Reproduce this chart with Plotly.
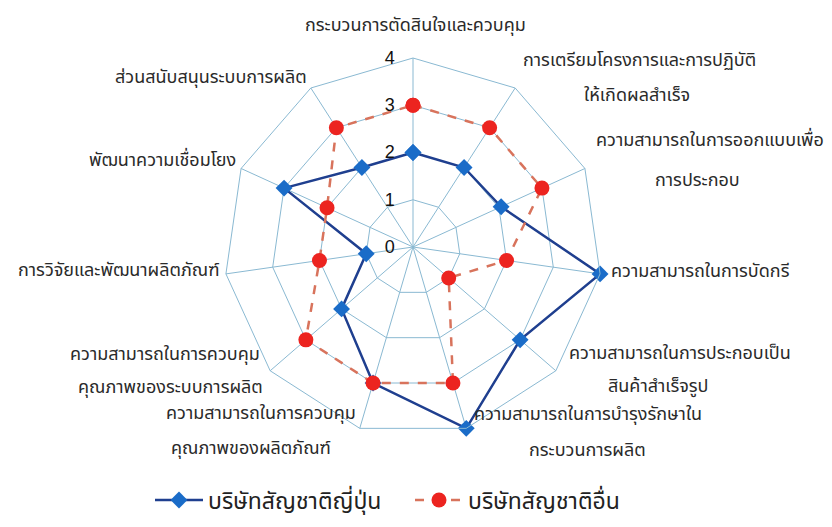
import plotly.graph_objects as go

W, H = 832, 527

categories = [
    "กระบวนการตัดสินใจและควบคุม",
    "การเตรียมโครงการและการปฏิบัติให้เกิดผลสำเร็จ",
    "ความสามารถในการออกแบบเพื่อการประกอบ",
    "ความสามารถในการบัดกรี",
    "ความสามารถในการประกอบเป็นสินค้าสำเร็จรูป",
    "ความสามารถในการบำรุงรักษาในกระบวนการผลิต",
    "ความสามารถในการควบคุมคุณภาพของผลิตภัณฑ์",
    "ความสามารถในการควบคุมคุณภาพของระบบการผลิต",
    "การวิจัยและพัฒนาผลิตภัณฑ์",
    "พัฒนาความเชื่อมโยง",
    "ส่วนสนับสนุนระบบการผลิต",
]
japanese = [2, 2, 2.05, 4, 3, 4, 3, 2, 1, 3, 2]
others = [3, 3, 3, 2, 1, 3, 3, 3, 2, 2, 3]
series_names = ["บริษัทสัญชาติญี่ปุ่น", "บริษัทสัญชาติอื่น"]
radial_ticks = [0, 1, 2, 3, 4]

# label lines as displayed in the chart
label_lines = [
    ["กระบวนการตัดสินใจและควบคุม"],
    ["การเตรียมโครงการและการปฏิบัติ", "ให้เกิดผลสำเร็จ"],
    ["ความสามารถในการออกแบบเพื่อ", "การประกอบ"],
    ["ความสามารถในการบัดกรี"],
    ["ความสามารถในการประกอบเป็น", "สินค้าสำเร็จรูป"],
    ["ความสามารถในการบำรุงรักษาใน", "กระบวนการผลิต"],
    ["ความสามารถในการควบคุม", "คุณภาพของผลิตภัณฑ์"],
    ["ความสามารถในการควบคุม", "คุณภาพของระบบการผลิต"],
    ["การวิจัยและพัฒนาผลิตภัณฑ์"],
    ["พัฒนาความเชื่อมโยง"],
    ["ส่วนสนับสนุนระบบการผลิต"],
]
# (x px, y px, anchor) for each line
label_pos = [
    [(415, 25, "center")],
    [(639, 60, "center"), (637, 95, "center")],
    [(710, 140, "center"), (697, 180, "center")],
    [(609, 271, "left")],
    [(680, 353, "center"), (658, 386, "center")],
    [(588, 414, "center"), (587, 450, "center")],
    [(261, 413, "center"), (251, 448, "center")],
    [(165, 354, "center"), (170, 387, "center")],
    [(221, 270, "right")],
    [(162, 160, "center")],
    [(211, 77, "center")],
]

FONT = "Tahoma, 'Noto Sans Thai', 'Loma', 'Garuda', sans-serif"
GRID = "#8ab9d2"

cx, cy, R = 413, 247, 189

fig = go.Figure()
theta = categories + [categories[0]]
fig.add_trace(go.Scatterpolar(
    r=japanese + [japanese[0]], theta=theta, name=series_names[0],
    mode="lines+markers",
    line=dict(color="#1f3f8f", width=2.5),
    marker=dict(symbol="diamond", size=13, color="#1a6cc8"),
))
fig.add_trace(go.Scatterpolar(
    r=others + [others[0]], theta=theta, name=series_names[1],
    mode="lines+markers",
    line=dict(color="#d8735c", width=2.5, dash="dash"),
    marker=dict(symbol="circle", size=15, color="#ec2420"),
))

annotations = []
for lines, poss in zip(label_lines, label_pos):
    for txt, (x, y, anc) in zip(lines, poss):
        annotations.append(dict(
            x=x / W, y=1 - y / H, xref="paper", yref="paper",
            text=txt, showarrow=False, xanchor=anc, yanchor="middle",
            font=dict(size=18, color="#2a2a2a", family=FONT),
        ))

fig.update_layout(
    width=W, height=H,
    margin=dict(l=0, r=0, t=0, b=0),
    paper_bgcolor="white", plot_bgcolor="white",
    font=dict(family=FONT),
    polar=dict(
        domain=dict(x=[(cx - R) / W, (cx + R) / W], y=[1 - (cy + R) / H, 1 - (cy - R) / H]),
        bgcolor="white",
        gridshape="linear",
        angularaxis=dict(
            direction="clockwise", rotation=90,
            showticklabels=False, ticks="",
            gridcolor=GRID, linecolor=GRID, gridwidth=1, linewidth=1,
        ),
        radialaxis=dict(
            range=[0, 4], tickvals=radial_ticks,
            ticktext=[str(t) + "\u00a0\u00a0\u00a0" for t in radial_ticks],
            angle=90, side="counterclockwise", tickangle=90,
            showline=False, ticks="",
            gridcolor=GRID, gridwidth=1,
            tickfont=dict(size=18, color="#111", family="Arial, 'Liberation Sans', sans-serif"),
        ),
    ),
    showlegend=True,
    legend=dict(
        orientation="h", x=150 / W, y=1 - 500 / H, xanchor="left", yanchor="middle",
        font=dict(size=23, color="#222", family=FONT),
        entrywidth=197, entrywidthmode="pixels", itemwidth=48,
        bgcolor="rgba(0,0,0,0)",
    ),
    annotations=annotations,
)

fig.write_html("out.html")
